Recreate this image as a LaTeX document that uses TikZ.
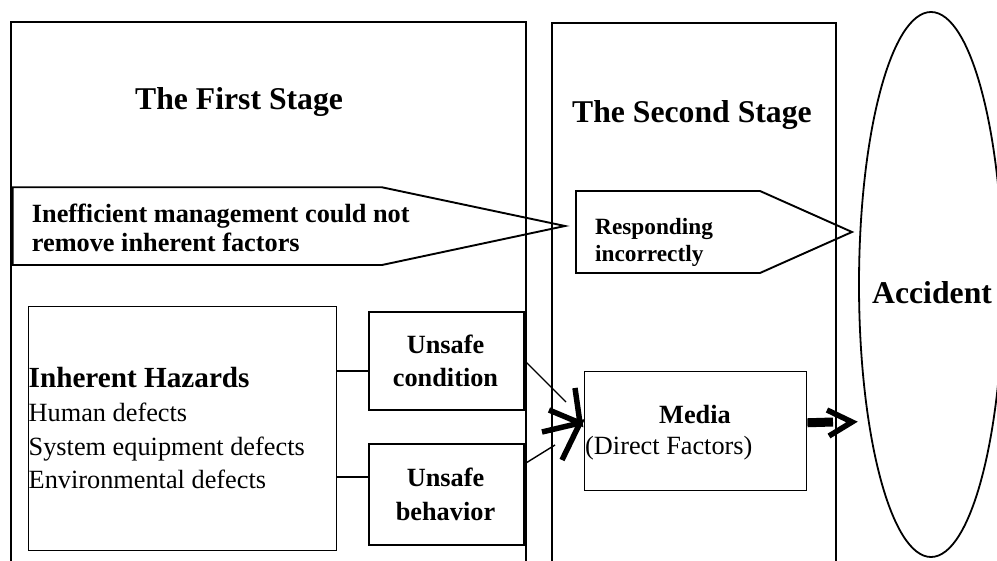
\documentclass[tikz,border=0pt]{standalone}
\usepackage{fontspec}
\setmainfont{Liberation Serif}
\usetikzlibrary{calc,shapes.geometric}

\begin{document}
\begin{tikzpicture}[x=1pt,y=-1pt,
  frame/.style={draw, line width=2pt, inner sep=0pt, anchor=north west},
  box/.style={draw, line width=2pt, inner sep=0pt, anchor=north west},
  lightbox/.style={draw, line width=1.2pt, inner sep=0pt, anchor=north west},
  outline/.style={line width=1.9pt, line join=miter},
  link/.style={line width=1.4pt},
  chev/.style={line width=5.5pt, line join=miter, line cap=butt},
  titletext/.style={font=\fontsize{31.7}{34}\selectfont\bfseries, inner sep=0pt},
  boldtext/.style={font=\fontsize{26.3}{28.5}\selectfont\bfseries, inner sep=0pt},
  plaintext/.style={font=\fontsize{26.3}{28.5}\selectfont, inner sep=0pt},
  smallbold/.style={font=\fontsize{23.3}{26}\selectfont\bfseries, inner sep=0pt},
]
\useasboundingbox (0,0) rectangle (997,561);

% stage frames (open towards the bottom edge)
\node[frame, minimum width=515pt, minimum height=580pt] (stage1) at (9.5,21) {};
\node[frame, minimum width=284pt, minimum height=580pt] (stage2) at (551,22) {};

% accident ellipse
\node[draw, ellipse, line width=1.8pt, minimum width=144pt, minimum height=545pt, inner sep=0pt] (acc) at (931,284.5) {};
\node[titletext, anchor=base west] (acctext) at (872,304) {Accident};

% stage titles
\node[titletext, anchor=base west] (title1) at (135,109.3) {The First Stage};
\node[titletext, anchor=base west] (title2) at (572,122.5) {The Second Stage};

% management arrow
\draw[outline] (12.7,187.3) coordinate (mgA) -- (382,187.3) -- (565,226) coordinate (mgTip)
  -- (382,265) -- (12.7,265) -- cycle;
\node[boldtext, anchor=base west] (mg1) at (31.7,223) {Inefficient management could not};
\node[boldtext, anchor=base west] (mg2) at (31.7,251.5) {remove inherent factors};

% responding arrow
\draw[outline] (576,191) coordinate (rsA) -- (760,191) -- (852,232) coordinate (rsTip)
  -- (760,273) -- (576,273) -- cycle;
\node[smallbold, anchor=base west] (rs1) at (595,235) {Responding};
\node[smallbold, anchor=base west] (rs2) at (595,262) {incorrectly};

% inherent hazards
\node[lightbox, minimum width=308.5pt, minimum height=244pt] (inh) at (27.5,306) {};
\node[font=\fontsize{29.2}{32}\selectfont\bfseries, inner sep=0pt, anchor=base west] (inh0) at (28.5,388) {Inherent Hazards};
\node[plaintext, anchor=base west] (inh1) at (28.5,422) {Human defects};
\node[plaintext, anchor=base west] (inh2) at (28.5,456) {System equipment defects};
\node[plaintext, anchor=base west] (inh3) at (28.5,489) {Environmental defects};

% unsafe condition / behaviour
\node[box, minimum width=155pt, minimum height=98pt] (uc) at (368,311) {};
\node[boldtext, anchor=base] (uc1) at (445.5,354) {Unsafe};
\node[boldtext, anchor=base] (uc2) at (445.5,387) {condition};
\node[box, minimum width=155pt, minimum height=101pt] (ub) at (368,443) {};
\node[boldtext, anchor=base] (ub1) at (445.5,486) {Unsafe};
\node[boldtext, anchor=base] (ub2) at (445.5,520) {behavior};

% media
\node[lightbox, line width=1.4pt, minimum width=222pt, minimum height=119pt] (media) at (584,371) {};
\node[boldtext, anchor=base] (media1) at (695,424) {Media};
\node[plaintext, anchor=base west] (media2) at (585,455) {(Direct Factors)};

% links from the hazards to the unsafe states
\coordinate (ucIn) at ($(uc.north west)!0.6!(uc.south west)$);
\coordinate (ubIn) at ($(ub.north west)!0.33!(ub.south west)$);
\draw[link] (inh.east |- ucIn) -- (ucIn);
\draw[link] (inh.east |- ubIn) -- (ubIn);

% links from the unsafe states towards the media
\coordinate (ucOut) at ($(uc.north east)!0.5!(uc.south east)$);
\coordinate (ubOut) at ($(ub.north east)!0.2!(ub.south east)$);
\coordinate (ucEnd) at (566,402);
\coordinate (ubEnd) at (555,445);
\draw[link] (ucOut) -- (ucEnd);
\draw[link] (ubOut) -- (ubEnd);

% open heads at the media
\coordinate (mIn) at (580,423);
\draw[chev] (575,388) -- (mIn) -- (549,410);
\draw[chev] (542,432) -- (mIn) -- (562,460);

% media to accident
\coordinate (mOut) at ($(media.north east)!0.43!(media.south east)$);
\coordinate (shaftEnd) at (833,422);
\draw[line width=9pt] (mOut) -- (shaftEnd);
\coordinate (aIn) at (852,422);
\draw[chev] (827,410) -- (aIn) -- (829,436);

\end{tikzpicture}
\end{document}
